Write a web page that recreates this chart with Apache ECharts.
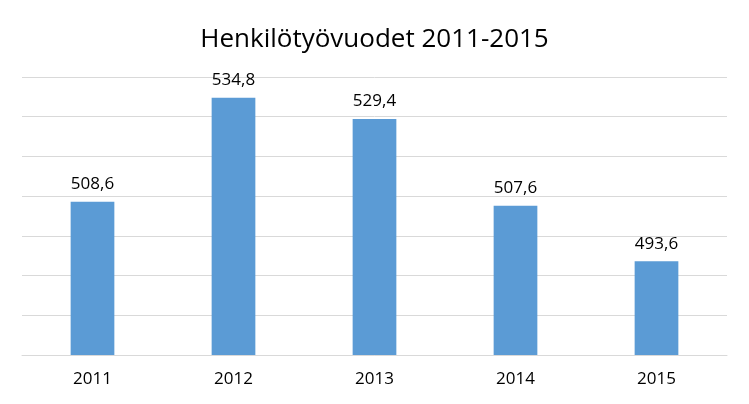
<!DOCTYPE html>
<html><head><meta charset="utf-8">
<script src="https://cdn.jsdelivr.net/npm/echarts@6/dist/echarts.min.js"></script>
<style>html,body{margin:0;padding:0;background:#fff}#c{width:749px;height:404px}</style>
</head><body><div id="c"></div>
<script>
var categories = ['2011','2012','2013','2014','2015'];
var values = [508.6, 534.8, 529.4, 507.6, 493.6];
var chart = echarts.init(document.getElementById('c'));
chart.setOption({
  animation: false,
  title: {text: 'Henkilötyövuodet 2011-2015', left: 'center', top: 22,
    textStyle: {fontFamily: 'Open Sans', fontSize: 26, fontWeight: 'normal', color: '#000'}},
  grid: {left: 22, right: 22, top: 77, bottom: 49},
  xAxis: {type: 'category', data: categories,
    axisLine: {show: true, lineStyle: {color: '#D9D9D9'}}, axisTick: {show: false},
    axisLabel: {fontFamily: 'Open Sans', fontSize: 17, color: '#000', margin: 16}},
  yAxis: {type: 'value', min: 470, max: 540, interval: 10,
    axisLabel: {show: false}, axisLine: {show: false}, axisTick: {show: false},
    splitLine: {lineStyle: {color: '#D9D9D9'}}},
  series: [{type: 'bar', data: values, barWidth: '31%', itemStyle: {color: '#5B9BD5'},
    label: {show: true, position: 'top', distance: 9, fontFamily: 'Open Sans', fontSize: 17, color: '#000',
      formatter: function(p){ return String(p.value).replace('.', ','); }}}]
});
</script></body></html>
